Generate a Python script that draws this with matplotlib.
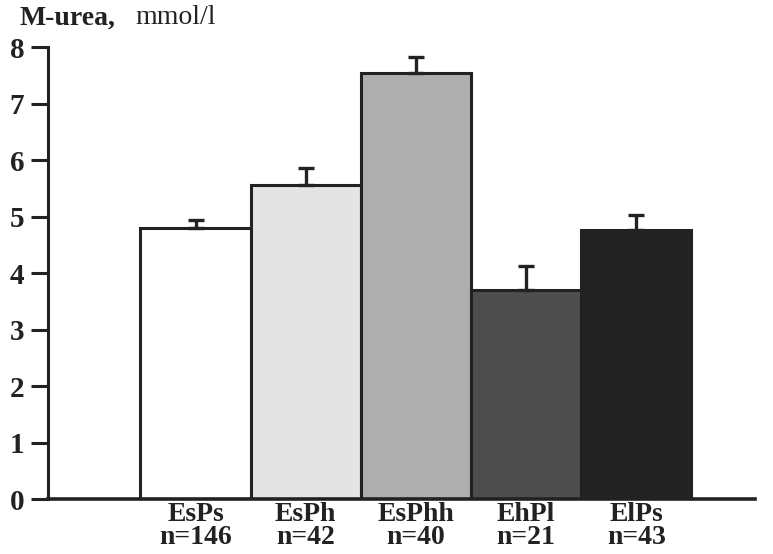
import matplotlib
matplotlib.use("Agg")
import matplotlib.pyplot as plt
import numpy as np

plt.rcParams['font.family'] = ['Liberation Serif', 'DejaVu Serif']

groups = ["EsPs", "EsPh", "EsPhh", "EhPl", "ElPs"]
counts = [146, 42, 40, 21, 43]
means = [4.80, 5.56, 7.54, 3.70, 4.76]
errs = [0.14, 0.30, 0.28, 0.42, 0.27]
colors = ["#ffffff", "#e4e4e4", "#aeaeae", "#4e4e4e", "#232323"]

ink = "#222222"

fig = plt.figure(figsize=(7.73, 5.54), dpi=100)
ax = fig.add_axes([0.062, 0.099, 0.915, 0.816])

x = np.arange(len(groups))
ax.bar(x, means, width=1.0, color=colors, edgecolor=ink, linewidth=2.2,
       yerr=[np.zeros(len(errs)), errs], capsize=6,
       error_kw=dict(ecolor=ink, elinewidth=2.4, capthick=2.4), zorder=2)

ax.set_xlim(-1.34, 5.08)
ax.set_ylim(0, 8)
ax.set_yticks(range(0, 9))
ax.set_yticklabels([str(v) for v in range(0, 9)], fontsize=21, fontweight='bold', color=ink)
ax.set_xticks(x)
ax.set_xticklabels(["{}\nn={}".format(g, n) for g, n in zip(groups, counts)],
                   fontsize=20, fontweight='bold', color=ink, linespacing=0.88)
ax.tick_params(axis='x', length=0, pad=2)
ax.tick_params(axis='y', length=12, width=2.2, color=ink, pad=5, direction='out')

for s in ['top', 'right']:
    ax.spines[s].set_visible(False)
ax.spines['left'].set_linewidth(2.2)
ax.spines['left'].set_color(ink)
ax.spines['bottom'].set_linewidth(2.6)
ax.spines['bottom'].set_color(ink)

fig.text(20 / 773, 1 - 18 / 554, "M-urea,", fontsize=20, fontweight='bold', color=ink, va='center')
fig.text(135 / 773, 1 - 18 / 554, "mmol/l", fontsize=20, color=ink, va='center')

plt.savefig("out.png", dpi=100)
